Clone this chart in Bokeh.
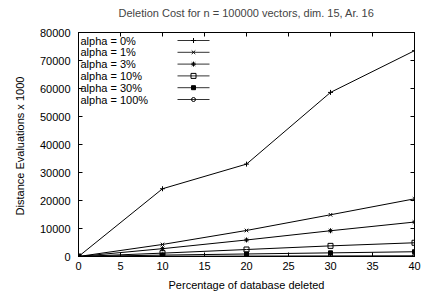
from bokeh.plotting import figure
from bokeh.models import LinearAxis, Range1d, FixedTicker, CustomJSTickFormatter, ColumnDataSource
from bokeh.embed import file_html
from bokeh.resources import INLINE
from bokeh.core.properties import value

# ---- data ----
pct_deleted = [0, 10, 20, 30, 40]
series_labels = ["alpha = 0%", "alpha = 1%", "alpha = 3%", "alpha = 10%", "alpha = 30%", "alpha = 100%"]
alpha_0 = [0, 24200, 33000, 58600, 73500]
alpha_1 = [0, 4300, 9300, 14900, 20600]
alpha_3 = [0, 2800, 5900, 9200, 12300]
alpha_10 = [0, 1200, 2500, 3800, 4900]
alpha_30 = [0, 500, 900, 1300, 1700]
alpha_100 = [0, 100, 150, 200, 250]
x_ticks = [0, 5, 10, 15, 20, 25, 30, 35, 40]
y_ticks = [0, 10000, 20000, 30000, 40000, 50000, 60000, 70000, 80000]

series = [alpha_0, alpha_1, alpha_3, alpha_10, alpha_30, alpha_100]
markers = ["cross", "x", "asterisk", "square", "square", "circle"]
fills = [None, None, None, None, "black", None]
sizes = [5, 5, 5, 5, 4, 4]

FONT = "Liberation Sans"
W, H = 422, 295
BL, BR, BT, BB = 78, 8, 32, 39
FW, FH = W - BL - BR, H - BT - BB

p = figure(width=W, height=H, output_backend="svg", toolbar_location=None,
           x_range=Range1d(0, 40), y_range=Range1d(0, 80000),
           min_border_left=BL, min_border_right=BR, min_border_top=BT, min_border_bottom=BB,
           title="Deletion Cost for n = 100000 vectors, dim. 15, Ar. 16")
p.title.text_font = FONT
p.title.text_font_size = "11px"
p.title.text_font_style = "normal"
p.title.align = "center"
p.title.offset = 0
p.title.standoff = 0
p.xgrid.visible = False
p.ygrid.visible = False
p.outline_line_color = "black"
p.outline_line_alpha = 1

for ax, ticks in ((p.xaxis[0], x_ticks), (p.yaxis[0], y_ticks)):
    ax.ticker = FixedTicker(ticks=ticks)
    ax.major_tick_in = 4
    ax.major_tick_out = 0
    ax.minor_tick_in = 0
    ax.minor_tick_out = 0
    ax.axis_line_color = "black"
    ax.major_tick_line_color = "black"
    ax.major_label_text_font = FONT
    ax.major_label_text_font_size = "11px"
    ax.major_label_text_color = "black"
    ax.axis_label_text_font = FONT
    ax.axis_label_text_font_size = "11px"
    ax.axis_label_text_font_style = "normal"
    ax.axis_label_text_color = "black"

p.xaxis[0].axis_label = "Percentage of database deleted"
p.xaxis[0].major_label_standoff = 5
p.xaxis[0].axis_label_standoff = 6
p.yaxis[0].axis_label = "Distance Evaluations  x 1000"
p.yaxis[0].major_label_standoff = 8
p.yaxis[0].axis_label_standoff = 11

blank = CustomJSTickFormatter(code="return ''")
for side, ticks in (("right", y_ticks), ("above", x_ticks)):
    ax = LinearAxis(ticker=FixedTicker(ticks=ticks), formatter=blank,
                    major_tick_in=4, major_tick_out=0, minor_tick_in=0, minor_tick_out=0,
                    major_label_standoff=0, axis_line_color="black",
                    major_tick_line_color="black")
    if side == "above":
        # spacer between frame and title
        ax.axis_label = " "
        ax.axis_label_text_font_size = "1px"
        ax.axis_label_standoff = 10
    p.add_layout(ax, side)

for ys, mk, fc, sz in zip(series, markers, fills, sizes):
    src = ColumnDataSource(dict(x=pct_deleted, y=ys))
    p.line("x", "y", source=src, line_color="black", line_width=1)
    p.scatter("x", "y", source=src, marker=mk, size=sz, line_color="black",
              fill_color=fc, line_width=1)

# ---- key (text left, sample right), positioned in pixel offsets from frame top-left ----
dx = 40 / FW
dy = 80000 / FH
for i, (lab, mk, fc, sz) in enumerate(zip(series_labels, markers, fills, sizes)):
    yrow = 80000 - (8 + 11.8 * i) * dy
    p.text(x=[2 * dx], y=[yrow], text=[lab], text_font=value(FONT), text_font_size="11px",
           text_baseline="middle", text_align="left", text_color="black")
    p.line(x=[99 * dx, 131 * dx], y=[yrow, yrow], line_color="#333333", line_width=1)
    p.scatter(x=[115 * dx], y=[yrow], marker=mk, size=sz, line_color="black",
              fill_color=fc, line_width=1)

open("out.html", "w").write(file_html(p, INLINE))
